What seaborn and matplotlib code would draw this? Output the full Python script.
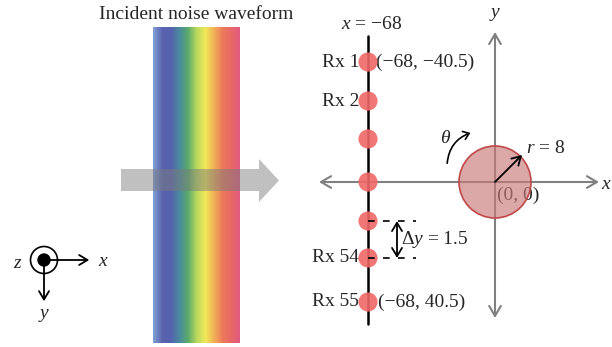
import numpy as np
import matplotlib
matplotlib.use("Agg")
import matplotlib.pyplot as plt
import seaborn as sns
from matplotlib.patches import Circle, Polygon, FancyArrowPatch
from matplotlib.colors import LinearSegmentedColormap, to_rgb

# ---- data (diagram layout, in pixel units of a 612x347 canvas) ----
band_colors = ["#7e9ed2", "#5862ae", "#5560ae", "#4a8a9e", "#5aaa6a", "#b8d860",
               "#f0e858", "#f0b058", "#ec7a5a", "#e86868", "#e05a80"]
rx_x = 368
rx_rows = [62, 101, 139, 182, 221, 258, 302]
rx_labels = {62: "Rx 1", 101: "Rx 2", 258: "Rx 54", 302: "Rx 55"}
coord_labels = [(376, 62, "(\u221268, \u221240.5)"), (378, 302, "(\u221268, 40.5)")]
origin = (495, 182)
radius_px = 36

sns.set_theme(style="white")
plt.rcParams["font.family"] = ["Liberation Serif", "DejaVu Serif"]
plt.rcParams["mathtext.fontset"] = "custom"
plt.rcParams["mathtext.rm"] = "Liberation Serif"
plt.rcParams["mathtext.it"] = "Liberation Serif:italic"

fig = plt.figure(figsize=(6.12, 3.47), dpi=100)
ax = fig.add_axes([0, 0, 1, 1])

# receiver dots (seaborn) drawn first, limits fixed afterwards
sns.scatterplot(x=[rx_x] * len(rx_rows), y=rx_rows, ax=ax, s=190, color="#f06868",
                alpha=0.9, edgecolor="none", legend=False, zorder=4)

ax.set_xlim(0, 612)
ax.set_ylim(347, 0)
ax.axis("off")

FS = 14
GRAY = np.array(to_rgb("#7a7a7a"))
ALPHA = 0.5

# rainbow band, with the gray arrow shaft blended over its middle
cmap = LinearSegmentedColormap.from_list("band", band_colors)
blend_cols = [tuple(float(v) for v in (ALPHA * GRAY + (1 - ALPHA) * np.array(to_rgb(c))))
              for c in band_colors]
cmap_blend = LinearSegmentedColormap.from_list("band_blend", blend_cols)
xe = np.linspace(153, 240, 175)
vals = np.linspace(0, 1, len(xe) - 1)[None, :]
ax.pcolormesh(xe, np.array([27, 169]), vals, cmap=cmap, shading="flat", zorder=1)
ax.pcolormesh(xe, np.array([169, 191]), vals, cmap=cmap_blend, shading="flat", zorder=1)
ax.pcolormesh(xe, np.array([191, 343]), vals, cmap=cmap, shading="flat", zorder=1)
ax.text(196, 14, "Incident noise waveform", ha="center", va="center", fontsize=FS)

# gray arrow parts outside the band
ax.add_patch(Polygon([(121, 169), (153, 169), (153, 191), (121, 191)], closed=True,
                     facecolor="#c0c0c0", edgecolor="none", zorder=10))
ax.add_patch(Polygon([(240, 169), (259, 169), (259, 159), (279, 180.5), (259, 202),
                      (259, 191), (240, 191)], closed=True, facecolor="#c0c0c0",
                     edgecolor="none", zorder=10))

# coordinate triad
ax.add_patch(Circle((44, 260), 13.5, facecolor="white", edgecolor="black", lw=1.2, zorder=3))
ax.add_patch(Circle((44, 260), 6, facecolor="black", edgecolor="black", zorder=4))
ax.annotate("", xy=(92, 260), xytext=(44, 260),
            arrowprops=dict(arrowstyle="->,head_length=0.5,head_width=0.3", lw=1.3, color="black"))
ax.annotate("", xy=(44, 304), xytext=(44, 260),
            arrowprops=dict(arrowstyle="->,head_length=0.5,head_width=0.3", lw=1.3, color="black"))
ax.text(98, 261, "$x$", ha="left", va="center", fontsize=FS)
ax.text(44, 315, "$y$", ha="center", va="center", fontsize=FS)
ax.text(18, 263, "$z$", ha="center", va="center", fontsize=FS)

# gray axes
ax.annotate("", xy=(599, origin[1]), xytext=(319, origin[1]),
            arrowprops=dict(arrowstyle="<->,head_length=0.6,head_width=0.35", lw=1.5,
                            color="#808080", shrinkA=0, shrinkB=0), zorder=3)
ax.annotate("", xy=(origin[0], 32), xytext=(origin[0], 318),
            arrowprops=dict(arrowstyle="<->,head_length=0.6,head_width=0.35", lw=1.5,
                            color="#808080", shrinkA=0, shrinkB=0), zorder=3)
ax.text(origin[0], 14, "$y$", ha="center", va="center", fontsize=FS)
ax.text(601, 184, "$x$", ha="left", va="center", fontsize=FS)

# scatterer circle
ax.add_patch(Circle(origin, radius_px, facecolor="#c87878", alpha=0.65, edgecolor="none", zorder=4))
ax.add_patch(Circle(origin, radius_px, facecolor="none", edgecolor="#c04848", lw=1.2, zorder=5))
ax.annotate("", xy=(522, 155), xytext=origin,
            arrowprops=dict(arrowstyle="->,head_length=0.5,head_width=0.3", lw=1.3,
                            color="black", shrinkA=0, shrinkB=0), zorder=6)
ax.text(526, 148, "$r$ = 8", ha="left", va="center", fontsize=FS)
ax.text(497, 195, "(0, 0)", ha="left", va="center", fontsize=FS)

# theta arc
ax.add_patch(FancyArrowPatch((447, 166), (473, 132), connectionstyle="arc3,rad=-0.35",
                             arrowstyle="->,head_length=4,head_width=3", lw=1.2, color="black"))
ax.text(446, 138, r"$\theta$", ha="center", va="center", fontsize=FS)

# receiver line
ax.plot([rx_x, rx_x], [36, 324], color="black", lw=1.8, zorder=3)
ax.text(372, 24, "$x$ = \u221268", ha="center", va="center", fontsize=FS)
for yy, lab in rx_labels.items():
    ax.text(359, yy, lab, ha="right", va="center", fontsize=FS)
for xx, yy, lab in coord_labels:
    ax.text(xx, yy, lab, ha="left", va="center", fontsize=FS)

# spacing markers
for yy in (221, 258):
    ax.plot([rx_x, 416], [yy, yy], color="black", lw=1.2, ls=(0, (4, 5)), zorder=5)
ax.annotate("", xy=(397, 258), xytext=(397, 221),
            arrowprops=dict(arrowstyle="<->,head_length=0.5,head_width=0.3", lw=1.3,
                            color="black", shrinkA=0, shrinkB=0))
ax.text(401, 239, "\u0394$y$ = 1.5", ha="left", va="center", fontsize=FS)

fig.savefig("out.png", dpi=100)
